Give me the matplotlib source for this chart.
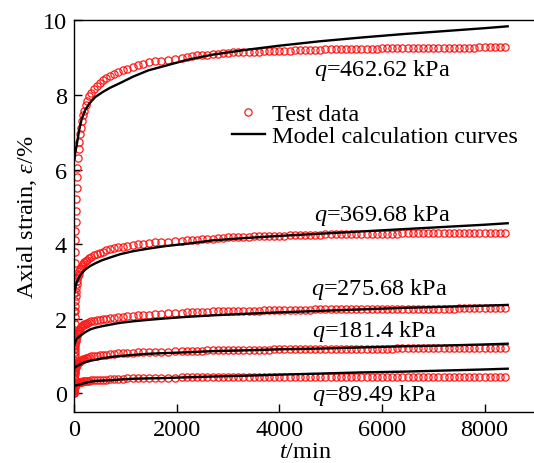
import numpy as np
import matplotlib.pyplot as plt

plt.rcParams['font.family'] = 'Liberation Serif'
plt.rcParams['mathtext.fontset'] = 'custom'
plt.rcParams['mathtext.rm'] = 'Liberation Serif'
plt.rcParams['mathtext.it'] = 'Liberation Serif:italic'

# creep test sampling times (min)
t_test = [0, 1, 2, 3, 5, 7, 10, 13, 16, 20, 25, 30, 36, 42, 50, 58, 67, 77, 88, 100,
          115, 130, 150, 175, 200, 230, 260, 300, 340, 390, 440, 500, 560, 630, 700,
          780, 860, 950, 1040, 1140, 1240, 1350, 1460, 1580, 1700, 1830, 1960,
          2100, 2200, 2300, 2400, 2500, 2600, 2700, 2800, 2900, 3000, 3100, 3200,
          3300, 3400, 3500, 3600, 3700, 3800, 3900, 4000, 4100, 4200, 4300, 4400,
          4500, 4600, 4700, 4800, 4900, 5000, 5100, 5200, 5300, 5400, 5500, 5600,
          5700, 5800, 5900, 6000, 6100, 6200, 6300, 6400, 6500, 6600, 6700, 6800,
          6900, 7000, 7100, 7200, 7300, 7400, 7500, 7600, 7700, 7800, 7900, 8000,
          8100, 8200, 8300, 8400]

# measured axial strain (%) for each deviator stress
eps_462 = [0.2, 0.7, 1.2, 1.7, 2.2, 2.7, 3.1, 3.5, 3.8, 4.1, 4.35, 4.6, 4.9, 5.2, 5.5, 5.8, 6.05, 6.3, 6.55, 6.75,
           6.95, 7.12, 7.3, 7.45, 7.58, 7.72, 7.84, 7.96, 8.06, 8.16, 8.24, 8.32, 8.39, 8.46, 8.51,
           8.56, 8.61, 8.66, 8.7, 8.74, 8.8, 8.84, 8.87, 8.9, 8.92, 8.95, 8.97,
           9.0, 9.02, 9.04, 9.06, 9.07, 9.08, 9.09, 9.1, 9.12, 9.13, 9.14, 9.15,
           9.15, 9.16, 9.16, 9.16, 9.17, 9.17, 9.18, 9.18, 9.19, 9.19, 9.2, 9.2,
           9.2, 9.21, 9.21, 9.21, 9.22, 9.22, 9.22, 9.23, 9.23, 9.23, 9.23, 9.24,
           9.24, 9.24, 9.24, 9.25, 9.25, 9.25, 9.25, 9.25, 9.26, 9.26, 9.26, 9.26,
           9.26, 9.26, 9.27, 9.27, 9.27, 9.27, 9.27, 9.27, 9.27, 9.27, 9.28, 9.28,
           9.28, 9.28, 9.28, 9.28]
eps_369 = [0.1, 0.4, 0.7, 1.0, 1.3, 1.6, 1.85, 2.05, 2.2, 2.35, 2.48, 2.6, 2.72, 2.82, 2.92, 3.0, 3.08, 3.15, 3.21, 3.27,
           3.32, 3.37, 3.42, 3.47, 3.51, 3.55, 3.58, 3.62, 3.66, 3.7, 3.73, 3.76, 3.79, 3.83, 3.86,
           3.89, 3.91, 3.93, 3.95, 3.97, 3.99, 4.01, 4.03, 4.05, 4.06, 4.07, 4.08,
           4.09, 4.1, 4.11, 4.12, 4.13, 4.14, 4.15, 4.16, 4.17, 4.18, 4.19, 4.19,
           4.2, 4.2, 4.21, 4.21, 4.22, 4.22, 4.23, 4.23, 4.23, 4.24, 4.24, 4.24,
           4.25, 4.25, 4.25, 4.25, 4.26, 4.26, 4.26, 4.26, 4.27, 4.27, 4.27, 4.27,
           4.27, 4.28, 4.28, 4.28, 4.28, 4.28, 4.28, 4.29, 4.29, 4.29, 4.29, 4.29,
           4.29, 4.29, 4.29, 4.3, 4.3, 4.3, 4.3, 4.3, 4.3, 4.3, 4.3, 4.3,
           4.3, 4.3, 4.3, 4.3]
eps_275 = [0.05, 0.25, 0.45, 0.6, 0.75, 0.9, 1.02, 1.12, 1.2, 1.27, 1.33, 1.39, 1.44, 1.49, 1.54, 1.58, 1.62, 1.65, 1.68, 1.71,
           1.74, 1.77, 1.8, 1.83, 1.85, 1.87, 1.89, 1.91, 1.93, 1.95, 1.96, 1.97, 1.99, 2.0, 2.01,
           2.03, 2.04, 2.05, 2.07, 2.08, 2.09, 2.1, 2.11, 2.12, 2.13, 2.14, 2.15,
           2.16, 2.17, 2.17, 2.18, 2.19, 2.19, 2.2, 2.2, 2.2, 2.21, 2.21, 2.21,
           2.22, 2.22, 2.22, 2.22, 2.23, 2.23, 2.23, 2.23, 2.24, 2.24, 2.24, 2.24,
           2.24, 2.24, 2.25, 2.25, 2.25, 2.25, 2.25, 2.25, 2.25, 2.26, 2.26, 2.26,
           2.26, 2.26, 2.26, 2.26, 2.26, 2.26, 2.27, 2.27, 2.27, 2.27, 2.27, 2.27,
           2.27, 2.27, 2.27, 2.27, 2.27, 2.27, 2.28, 2.28, 2.28, 2.28, 2.28, 2.28,
           2.28, 2.28, 2.28, 2.29]
eps_181 = [0.02, 0.12, 0.22, 0.3, 0.38, 0.45, 0.51, 0.56, 0.6, 0.64, 0.67, 0.7, 0.72, 0.74, 0.76, 0.78, 0.8, 0.82, 0.84, 0.85,
           0.87, 0.88, 0.9, 0.92, 0.93, 0.95, 0.96, 0.97, 0.99, 1.0, 1.01, 1.02, 1.03, 1.04, 1.05,
           1.06, 1.07, 1.08, 1.09, 1.09, 1.1, 1.1, 1.11, 1.11, 1.12, 1.12, 1.13,
           1.13, 1.13, 1.14, 1.14, 1.14, 1.15, 1.15, 1.15, 1.15, 1.16, 1.16, 1.16,
           1.16, 1.17, 1.17, 1.17, 1.17, 1.17, 1.18, 1.18, 1.18, 1.18, 1.18, 1.18,
           1.19, 1.19, 1.19, 1.19, 1.19, 1.19, 1.19, 1.2, 1.2, 1.2, 1.2, 1.2,
           1.2, 1.2, 1.2, 1.2, 1.2, 1.2, 1.21, 1.21, 1.21, 1.21, 1.21, 1.21,
           1.21, 1.21, 1.21, 1.21, 1.21, 1.21, 1.21, 1.21, 1.21, 1.21, 1.21, 1.21,
           1.21, 1.21, 1.21, 1.21]
eps_89 = [0.0, 0.04, 0.08, 0.11, 0.14, 0.16, 0.18, 0.2, 0.21, 0.22, 0.23, 0.24, 0.25, 0.26, 0.27, 0.27, 0.28, 0.29, 0.29, 0.3,
          0.3, 0.31, 0.31, 0.32, 0.32, 0.33, 0.33, 0.34, 0.35, 0.35, 0.36, 0.36, 0.37, 0.37, 0.38,
          0.38, 0.39, 0.39, 0.4, 0.4, 0.41, 0.41, 0.41, 0.42, 0.42, 0.42, 0.42,
          0.43, 0.43, 0.43, 0.43, 0.43, 0.43, 0.44, 0.44, 0.44, 0.44, 0.44, 0.44,
          0.44, 0.44, 0.44, 0.44, 0.44, 0.44, 0.44, 0.44, 0.44, 0.44, 0.45, 0.45,
          0.45, 0.45, 0.45, 0.45, 0.45, 0.45, 0.45, 0.45, 0.45, 0.45, 0.45, 0.45,
          0.45, 0.45, 0.45, 0.45, 0.45, 0.45, 0.45, 0.45, 0.45, 0.45, 0.45, 0.45,
          0.45, 0.45, 0.45, 0.45, 0.45, 0.45, 0.45, 0.45, 0.45, 0.45, 0.45, 0.45,
          0.45, 0.45, 0.45, 0.45]

# model prediction times (min) and strains (%)
t_model = [10, 30, 60, 100, 150, 220, 310, 420, 550, 700, 900, 1150, 1450, 1800,
           2200, 2700, 3300, 4000, 4800, 5600, 6400, 7200, 8000, 8450]
mod_462 = [6.3, 6.5, 6.72, 7.05, 7.36, 7.6, 7.79, 7.95, 8.07, 8.19, 8.32, 8.49, 8.66, 8.79,
           8.94, 9.08, 9.2, 9.32, 9.44, 9.54, 9.63, 9.71, 9.79, 9.84]
mod_369 = [2.72, 2.86, 3.0, 3.12, 3.22, 3.32, 3.41, 3.49, 3.57, 3.64, 3.73, 3.81, 3.88, 3.95,
           4.01, 4.1, 4.16, 4.22, 4.28, 4.34, 4.4, 4.46, 4.52, 4.56]
mod_275 = [1.31, 1.4, 1.47, 1.52, 1.57, 1.64, 1.71, 1.76, 1.8, 1.84, 1.89, 1.93, 1.97, 2.01,
           2.05, 2.09, 2.13, 2.17, 2.21, 2.25, 2.29, 2.32, 2.35, 2.37]
mod_181 = [0.68, 0.71, 0.73, 0.76, 0.8, 0.84, 0.87, 0.9, 0.94, 0.97, 1.0, 1.03, 1.06, 1.08,
           1.1, 1.13, 1.15, 1.18, 1.2, 1.23, 1.26, 1.28, 1.31, 1.33]
mod_89 = [0.2, 0.21, 0.22, 0.23, 0.25, 0.28, 0.31, 0.33, 0.34, 0.35, 0.37, 0.39, 0.4, 0.41,
          0.43, 0.45, 0.47, 0.5, 0.53, 0.56, 0.58, 0.61, 0.64, 0.66]

test_sets = [eps_462, eps_369, eps_275, eps_181, eps_89]
model_sets = [mod_462, mod_369, mod_275, mod_181, mod_89]
stress_labels = ['462.62', '369.68', '275.68', '181.4', '89.49']
label_pos = [(6000, 8.68), (6000, 4.8), (5950, 2.8), (5850, 1.68), (5850, -0.02)]

fs = 17.5
fig = plt.figure(figsize=(5.34, 4.64), dpi=100)
ax = fig.add_axes([0.1386, 0.110, 0.865, 0.844])

for i in range(5):
    ax.plot(t_test, test_sets[i], 'o', ms=5.2, mfc='none', mec='#ff1a1a', mew=0.9,
            zorder=2, label='Test data' if i == 0 else None)
    ax.plot(t_model, model_sets[i], '-', color='black', lw=1.7, zorder=3,
            label='Model calculation curves' if i == 0 else None)
    ax.text(label_pos[i][0], label_pos[i][1], '$q$=' + stress_labels[i] + ' kPa',
            fontsize=fs, ha='center', va='center')

ax.set_xlim(0, 9000)
ax.set_ylim(-0.5, 10)
ax.set_xticks([0, 2000, 4000, 6000, 8000])
ax.set_yticks([0, 2, 4, 6, 8, 10])
ax.tick_params(direction='in', length=6, width=1, labelsize=fs, pad=5)
ax.spines['right'].set_visible(False)
for s in ['left', 'bottom', 'top']:
    ax.spines[s].set_linewidth(1.0)

ax.set_xlabel('$t$/min', fontsize=fs, labelpad=1)
ax.set_ylabel(r'Axial strain, $\varepsilon$/%', fontsize=fs, labelpad=3)

ax.legend(loc='upper left', bbox_to_anchor=(232 / 534, 1 - 104 / 464),
          bbox_transform=fig.transFigure, frameon=False, fontsize=fs,
          handlelength=1.35, handletextpad=0.3, labelspacing=0.0,
          borderpad=0, borderaxespad=0)

fig.savefig('out.png', dpi=100)
